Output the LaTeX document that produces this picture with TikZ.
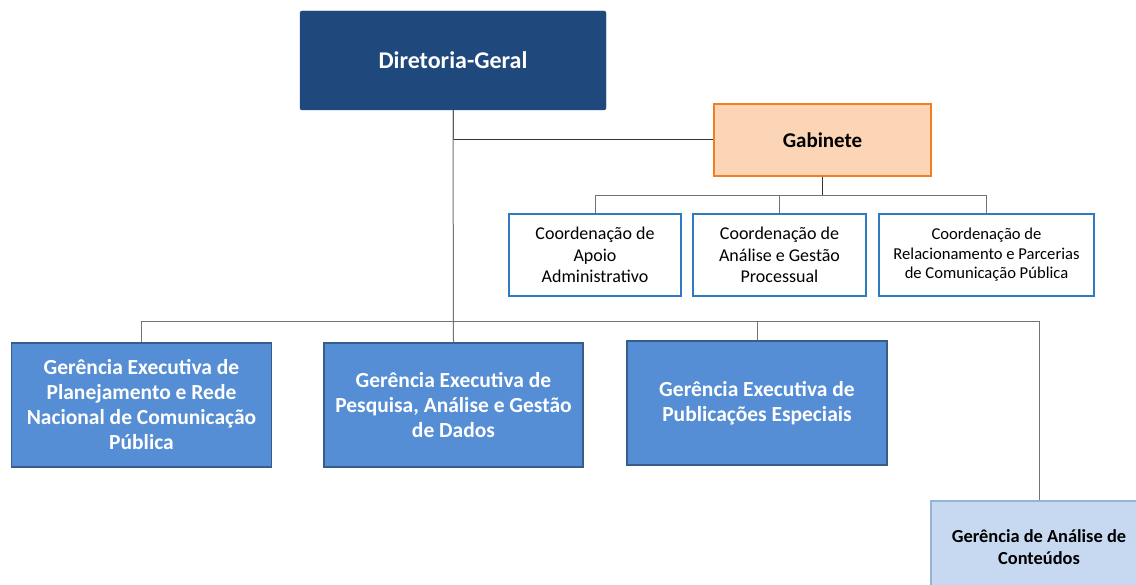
\documentclass[tikz,border=0pt]{standalone}
\usepackage{fontspec}
\setmainfont{Carlito}
\definecolor{dgblue}{HTML}{1F497D}
\definecolor{peach}{HTML}{FBD5B5}
\definecolor{orangeb}{HTML}{F07F22}
\definecolor{coordb}{HTML}{2E7BC4}
\definecolor{gerfill}{HTML}{558ED5}
\definecolor{gerbord}{HTML}{385D8A}
\definecolor{lightfill}{HTML}{C6D9F1}
\definecolor{lightbord}{HTML}{95B3D7}
\tikzset{
  dirbox/.style={draw=dgblue, fill=dgblue, rounded corners=2pt, text=white, font=\fontsize{24}{28}\selectfont\bfseries, inner sep=0pt, align=center},
  gabbox/.style={draw=orangeb, line width=1.2pt, fill=peach, font=\fontsize{21}{25}\selectfont\bfseries, inner sep=0pt, align=center},
  coordbox/.style={draw=coordb, line width=1.2pt, fill=white, font=\fontsize{18}{21.5}\selectfont, inner sep=0pt, align=center, minimum height=82pt},
  gerbox/.style={draw=gerbord, line width=1.2pt, fill=gerfill, text=white, font=\fontsize{21.5}{25}\selectfont\bfseries, inner sep=0pt, align=center, minimum height=124pt},
  lightbox/.style={draw=lightbord, line width=1.2pt, fill=lightfill, font=\fontsize{18.4}{22}\selectfont\bfseries, inner sep=0pt, align=center},
  conn/.style={draw=black!80, line width=1pt},
  connl/.style={draw=black!55, line width=1pt}
}
\begin{document}
\begin{tikzpicture}[x=1pt,y=-1pt]
\useasboundingbox (0,0) rectangle (1136,585);
\clip (0,0) rectangle (1136,585);
\coordinate (bus) at (0,322);
\coordinate (cbus) at (0,196);
% nodes
\node[dirbox, minimum width=306pt, minimum height=99pt] (dg) at (453,60.5) {Diretoria-Geral};
\node[gabbox, minimum width=217pt, minimum height=72pt] (gab) at (822.5,140) {Gabinete};
\node[coordbox, minimum width=172pt] (c1) at (595,255) {Coordenação de\\Apoio\\Administrativo};
\node[coordbox, minimum width=173pt] (c2) at (779.5,255) {Coordenação de\\Análise e Gestão\\Processual};
\node[coordbox, minimum width=215pt, font=\fontsize{16.6}{19.5}\selectfont] (c3) at (986.5,255) {Coordenação de\\Relacionamento e Parcerias\\de Comunicação Pública};
\node[gerbox, minimum width=260pt] (g1) at (141.5,405) {Gerência Executiva de\\Planejamento e Rede\\Nacional de Comunicação\\Pública};
\node[gerbox, minimum width=259pt] (g2) at (453.5,405) {Gerência Executiva de\\Pesquisa, Análise e Gestão\\de Dados};
\node[gerbox, minimum width=260pt] (g3) at (757,403) {Gerência Executiva de\\Publicações Especiais};
\node[lightbox, minimum width=216pt, minimum height=92pt] (g4) at (1039,547) {Gerência de Análise de\\Conteúdos};
% connectors
\draw[conn] (dg.south) |- (gab.west);
\draw[connl] (dg.south) -- (g2.north);
\draw[conn] (gab.south) -- (gab.south |- cbus);
\draw[connl] (c1.north) -- (c1.north |- cbus) -- (c3.north |- cbus) -- (c3.north);
\draw[connl] (c2.north) -- (c2.north |- cbus);
\draw[connl] (g1.north) -- (g1.north |- bus) -- (g3.north |- bus) -- (g3.north);
\draw[connl] (g3.north |- bus) -- (g4.north |- bus) -- (g4.north);
\end{tikzpicture}
\end{document}
